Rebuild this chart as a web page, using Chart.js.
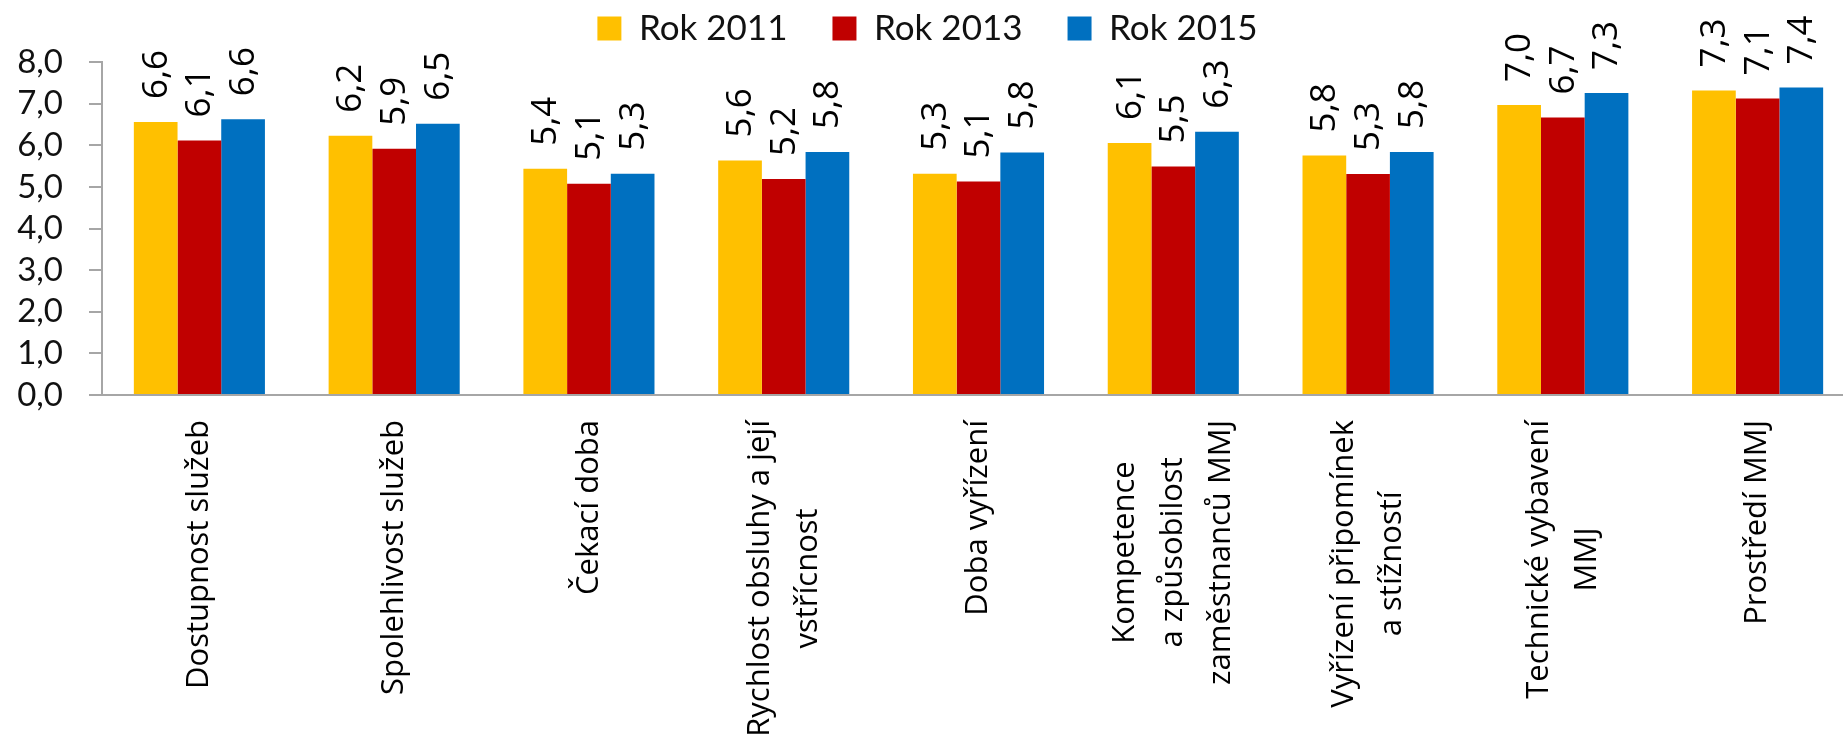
<!DOCTYPE html>
<html>
<head>
<meta charset="utf-8">
<script src="https://cdn.jsdelivr.net/npm/chart.js@4.4.1/dist/chart.umd.min.js"></script>
<style>
  html, body { margin: 0; padding: 0; background: #fff; overflow: hidden; }
  #wrap { width: 1843px; height: 748px; overflow: hidden; }
</style>
</head>
<body>
<div id="wrap"><canvas id="barChart" width="1860" height="748"></canvas></div>
<script>
// categories (each entry = lines of the rotated axis label)
var categories = [
    ['Dostupnost služeb'],
    ['Spolehlivost služeb'],
    ['Čekací doba'],
    ['Rychlost obsluhy a její', 'vstřícnost'],
    ['Doba vyřízení'],
    ['Kompetence', 'a způsobilost', 'zaměstnanců MMJ'],
    ['Vyřízení připomínek', 'a stížností'],
    ['Technické vybavení', 'MMJ'],
    ['Prostředí MMJ']
];

var seriesNames = ['Rok 2011', 'Rok 2013', 'Rok 2015'];
var seriesColors = ['#FFC000', '#C00000', '#0070C0'];

// values
var rok2011 = [6.56, 6.23, 5.44, 5.64, 5.32, 6.06, 5.76, 6.97, 7.32];
var rok2013 = [6.12, 5.92, 5.08, 5.19, 5.13, 5.49, 5.31, 6.67, 7.13];
var rok2015 = [6.63, 6.52, 5.32, 5.84, 5.83, 6.33, 5.84, 7.26, 7.39];

var yTicks = [0, 1, 2, 3, 4, 5, 6, 7, 8];

function fmt(v) {
    return v.toFixed(1).replace('.', ',');
}

// value labels drawn vertically above each bar
var valueLabels = {
    id: 'valueLabels',
    afterDatasetsDraw: function (chart) {
        var ctx = chart.ctx;
        ctx.save();
        ctx.font = '35px "Open Sans"';
        ctx.fillStyle = '#000';
        ctx.textAlign = 'left';
        ctx.textBaseline = 'middle';
        chart.data.datasets.forEach(function (ds, di) {
            var meta = chart.getDatasetMeta(di);
            meta.data.forEach(function (bar, i) {
                ctx.save();
                ctx.translate(bar.x + 1, bar.y - 23);
                ctx.rotate(-Math.PI / 2);
                ctx.fillText(fmt(ds.data[i]), 0, 0);
                ctx.restore();
            });
        });
        ctx.restore();
    }
};

// category labels: rotated, lines centred against each other, block top-aligned
var categoryLabels = {
    id: 'categoryLabels',
    afterDraw: function (chart) {
        var ctx = chart.ctx;
        var xScale = chart.scales.x;
        var top = chart.chartArea.bottom + 25;
        var lineGap = 48;
        ctx.save();
        ctx.font = '31px "Open Sans"';
        ctx.fillStyle = '#000';
        ctx.textAlign = 'center';
        ctx.textBaseline = 'middle';
        categories.forEach(function (lines, i) {
            var cx = xScale.getPixelForValue(i);
            var maxW = 0;
            lines.forEach(function (l) { maxW = Math.max(maxW, ctx.measureText(l).width); });
            var cy = top + maxW / 2;
            lines.forEach(function (l, j) {
                var lx = cx + (j - (lines.length - 1) / 2) * lineGap;
                ctx.save();
                ctx.translate(lx, cy);
                ctx.rotate(-Math.PI / 2);
                ctx.fillText(l, 0, 0);
                ctx.restore();
            });
        });
        ctx.restore();
    }
};

function drawChart() {
    var ctx = document.getElementById('barChart').getContext('2d');
    var datasets = [rok2011, rok2013, rok2015].map(function (vals, k) {
        return {
            label: seriesNames[k],
            data: vals,
            backgroundColor: seriesColors[k],
            borderWidth: 0,
            categoryPercentage: 0.673,
            barPercentage: 1.0
        };
    });

    new Chart(ctx, {
        type: 'bar',
        data: {
            labels: categories.map(function (c) { return c.join(' '); }),
            datasets: datasets
        },
        options: {
            responsive: false,
            animation: false,
            devicePixelRatio: 1,
            layout: {
                padding: { left: 0, right: 5, top: -34, bottom: 353 }
            },
            plugins: {
                legend: {
                    position: 'top',
                    labels: {
                        font: { family: 'Lato', size: 35 },
                        color: '#111',
                        boxWidth: 24,
                        boxHeight: 24,
                        padding: 45
                    }
                },
                // empty spacer between legend and plot
                title: {
                    display: true,
                    text: ' ',
                    weight: 500,
                    font: { size: 1 },
                    padding: { top: 0, bottom: 5 }
                },
                tooltip: { enabled: false }
            },
            scales: {
                x: {
                    grid: { display: false, drawTicks: false },
                    border: { display: true, color: '#a6a6a6', width: 2 },
                    ticks: { display: false }
                },
                y: {
                    min: 0,
                    max: 8,
                    afterBuildTicks: function (axis) {
                        axis.ticks = yTicks.map(function (v) { return { value: v }; });
                    },
                    afterFit: function (axis) {
                        axis.width = 102;
                    },
                    grid: {
                        drawOnChartArea: false,
                        tickLength: 13,
                        color: '#a6a6a6',
                        lineWidth: 2
                    },
                    border: { display: true, color: '#a6a6a6', width: 2 },
                    ticks: {
                        autoSkip: false,
                        font: { family: 'Lato', size: 33 },
                        color: '#111',
                        padding: 26,
                        callback: function (v) { return fmt(v); }
                    }
                }
            }
        },
        plugins: [valueLabels, categoryLabels]
    });
}

Promise.all([
    document.fonts.load('35px Lato'),
    document.fonts.load('33px Lato'),
    document.fonts.load('35px "Open Sans"'),
    document.fonts.load('31px "Open Sans"')
]).then(drawChart, drawChart);
</script>
</body>
</html>
